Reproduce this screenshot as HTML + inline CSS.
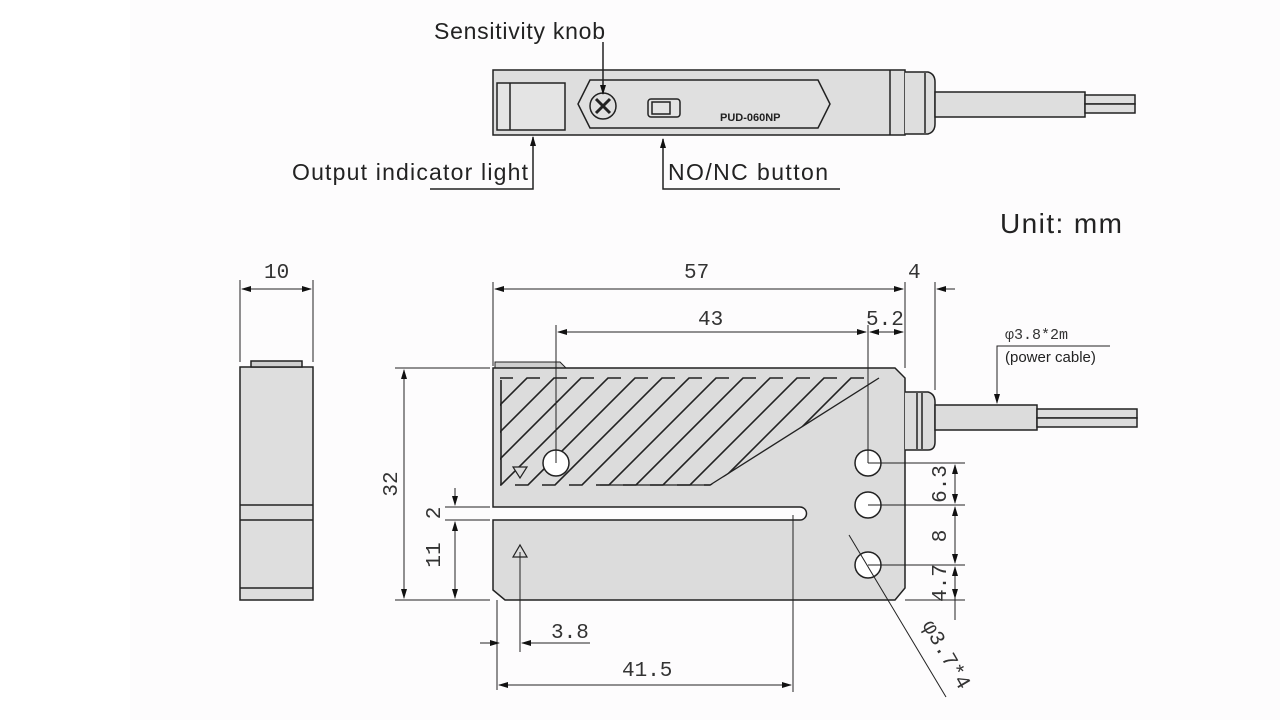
<!DOCTYPE html>
<html><head><meta charset="utf-8"><style>
html,body{margin:0;padding:0;background:#fff;}
svg{display:block;}
.s{font-family:"Liberation Sans","DejaVu Sans",sans-serif;fill:#222;}
.m{font-family:"Liberation Mono","DejaVu Sans Mono",monospace;fill:#333;}
</style></head><body>
<svg width="1280" height="720" viewBox="0 0 1280 720" xmlns="http://www.w3.org/2000/svg">
<defs>
<marker id="a" markerWidth="10" markerHeight="6" refX="9" refY="3" orient="auto" markerUnits="userSpaceOnUse"><path d="M0,0 L10,3 L0,6z" fill="#111"/></marker>
<marker id="b" markerWidth="10" markerHeight="6" refX="1" refY="3" orient="auto" markerUnits="userSpaceOnUse"><path d="M10,0 L0,3 L10,6z" fill="#111"/></marker>
<clipPath id="hc"><polygon points="500,377 879,377 710,486 500,486"/></clipPath>
</defs>
<rect x="130" y="0" width="1150" height="720" fill="#fdfcfd"/>
<g stroke="#222" stroke-width="1.5" fill="none">
<!-- TOP VIEW -->
<rect x="493" y="70" width="412" height="65" fill="#dedede"/>
<line x1="890" y1="70" x2="890" y2="135"/>
<path d="M905,72 L928,72 Q935,74 935,82 L935,124 Q935,132 928,134 L905,134" fill="#dedede"/>
<line x1="925" y1="73" x2="925" y2="133"/>
<rect x="935" y="92" width="150" height="25" fill="#dedede"/>
<rect x="1085" y="95" width="50" height="9" fill="#dedede"/>
<rect x="1085" y="104" width="50" height="9" fill="#dedede"/>
<rect x="497" y="83" width="68" height="47" fill="#e4e4e4"/>
<line x1="510" y1="83" x2="510" y2="130"/>
<polygon points="590,80 818,80 830,104 818,128 590,128 578,104" fill="#e0e0e0"/>
<circle cx="603" cy="106" r="13"/>
<path d="M596,99 L610,113 M610,99 L596,113" stroke-width="3"/>
<rect x="648" y="99" width="32" height="18" rx="3" fill="#e4e4e4"/>
<rect x="652" y="102" width="18" height="12"/>
<line x1="603" y1="42" x2="603" y2="94" marker-end="url(#a)"/>
<polyline points="430,189 533,189 533,137" marker-end="url(#a)"/>
<polyline points="840,189 663,189 663,139" marker-end="url(#a)"/>
<!-- SIDE VIEW -->
<rect x="240" y="367" width="73" height="233" fill="#dedede"/>
<rect x="251" y="361" width="51" height="6" fill="#cfcfcf"/>
<line x1="240" y1="505" x2="313" y2="505"/><line x1="240" y1="520" x2="313" y2="520"/><line x1="240" y1="588" x2="313" y2="588"/>
<line x1="240" y1="280" x2="240" y2="362" stroke-width="1"/><line x1="313" y1="280" x2="313" y2="362" stroke-width="1"/>
<line x1="242" y1="289" x2="311" y2="289" stroke-width="1" marker-start="url(#b)" marker-end="url(#a)"/>
<!-- FRONT VIEW -->
<path d="M495,362 L560,362 L566,368 L495,368z" fill="#cfcfcf" stroke-width="1"/>
<path d="M493,368 L895,368 L905,378 L905,588 L895,600 L505,600 L493,590 L493,520 L800,520 A6.5,6.5 0 0 0 800,507 L493,507 Z" fill="#dcdcdc"/>
<path d="M905,392 L928,392 Q935,394 935,402 L935,442 Q935,450 928,450 L905,450" fill="#dcdcdc"/>
<line x1="917" y1="393" x2="917" y2="449"/><line x1="922" y1="393" x2="922" y2="449"/>
<rect x="935" y="405" width="102" height="25" fill="#dcdcdc"/>
<rect x="1037" y="409" width="100" height="9" fill="#dcdcdc"/>
<rect x="1037" y="418" width="100" height="9" fill="#dcdcdc"/>
<g clip-path="url(#hc)" stroke-width="1.6">
<path d="M380,485 l13,0 l107,-107 l13,0 M407,485 l13,0 l107,-107 l13,0 M434,485 l13,0 l107,-107 l13,0 M461,485 l13,0 l107,-107 l13,0 M488,485 l13,0 l107,-107 l13,0 M515,485 l13,0 l107,-107 l13,0 M542,485 l13,0 l107,-107 l13,0 M569,485 l13,0 l107,-107 l13,0 M596,485 l13,0 l107,-107 l13,0 M623,485 l13,0 l107,-107 l13,0 M650,485 l13,0 l107,-107 l13,0 M677,485 l13,0 l107,-107 l13,0 M704,485 l13,0 l107,-107 l13,0 M731,485 l13,0 l107,-107 l13,0"/>
<line x1="501" y1="380" x2="501" y2="485"/>
</g>
<polyline points="879,378 710,485 600,485" stroke-width="1.3"/>
<circle cx="556" cy="463" r="13" fill="#fff"/>
<circle cx="868" cy="463" r="13" fill="#fff"/>
<circle cx="868" cy="505" r="13" fill="#fff"/>
<circle cx="868" cy="565" r="13" fill="#fff"/>
<polygon points="513,467 527,467 520,478" stroke-width="1.2" fill="#dcdcdc"/>
<polygon points="513,557 527,557 520,545" stroke-width="1.2"/>
<g stroke-width="1">
<line x1="493" y1="282" x2="493" y2="366"/>
<line x1="905" y1="282" x2="905" y2="368"/>
<line x1="935" y1="282" x2="935" y2="390"/>
<line x1="495" y1="289" x2="903" y2="289" marker-start="url(#b)" marker-end="url(#a)"/>
<line x1="955" y1="289" x2="937" y2="289" marker-end="url(#a)"/>
<line x1="556" y1="325" x2="556" y2="463"/>
<line x1="868" y1="325" x2="868" y2="463"/>
<line x1="558" y1="332" x2="866" y2="332" marker-start="url(#b)" marker-end="url(#a)"/>
<line x1="870" y1="332" x2="903" y2="332" marker-start="url(#b)" marker-end="url(#a)"/>
<polyline points="1110,346 997,346 997,403" marker-end="url(#a)"/>
<line x1="395" y1="368" x2="490" y2="368"/><line x1="395" y1="600" x2="490" y2="600"/>
<line x1="404" y1="370" x2="404" y2="598" marker-start="url(#b)" marker-end="url(#a)"/>
<line x1="445" y1="507" x2="490" y2="507"/><line x1="445" y1="520" x2="490" y2="520"/>
<line x1="455" y1="488" x2="455" y2="505" marker-end="url(#a)"/>
<line x1="455" y1="522" x2="455" y2="598" marker-start="url(#b)" marker-end="url(#a)"/>
<line x1="868" y1="463" x2="965" y2="463"/><line x1="868" y1="505" x2="965" y2="505"/><line x1="868" y1="565" x2="965" y2="565"/><line x1="905" y1="600" x2="965" y2="600"/>
<line x1="955" y1="465" x2="955" y2="503" marker-start="url(#b)" marker-end="url(#a)"/>
<line x1="955" y1="507" x2="955" y2="563" marker-start="url(#b)" marker-end="url(#a)"/>
<line x1="955" y1="567" x2="955" y2="598" marker-start="url(#b)" marker-end="url(#a)"/>
<line x1="955" y1="598" x2="955" y2="620"/>
<line x1="497" y1="600" x2="497" y2="690"/>
<line x1="520" y1="552" x2="520" y2="652"/>
<line x1="793" y1="515" x2="793" y2="692"/>
<line x1="590" y1="643" x2="522" y2="643" marker-end="url(#a)"/>
<line x1="499" y1="643" x2="480" y2="643" marker-start="url(#b)"/>
<line x1="499" y1="685" x2="791" y2="685" marker-start="url(#b)" marker-end="url(#a)"/>
<line x1="849" y1="535" x2="946" y2="697"/>
</g>
</g>
<text class="s" x="434" y="39" font-size="23" textLength="171">Sensitivity knob</text>
<text class="s" x="292" y="180" font-size="23" textLength="236">Output indicator light</text>
<text class="s" x="668" y="180" font-size="23" textLength="160">NO/NC button</text>
<text class="s" x="1000" y="233" font-size="28" textLength="122">Unit: mm</text>
<text class="s" x="720" y="121" font-size="11" font-weight="bold">PUD-060NP</text>
<text class="s" x="1005" y="362" font-size="15">(power cable)</text>
<text class="m" x="1005" y="339" font-size="15">φ3.8*2m</text>
<g class="m" font-size="21">
<text x="264" y="278">10</text>
<text x="684" y="278">57</text>
<text x="908" y="278">4</text>
<text x="698" y="325">43</text>
<text x="866" y="325">5.2</text>
<text x="551" y="638">3.8</text>
<text x="622" y="676">41.5</text>
<text transform="translate(397,484) rotate(-90)" text-anchor="middle">32</text>
<text transform="translate(440,513) rotate(-90)" text-anchor="middle">2</text>
<text transform="translate(440,555) rotate(-90)" text-anchor="middle">11</text>
<text transform="translate(946,484) rotate(-90)" text-anchor="middle">6.3</text>
<text transform="translate(946,536) rotate(-90)" text-anchor="middle">8</text>
<text transform="translate(946,583) rotate(-90)" text-anchor="middle">4.7</text>
<text transform="translate(922,625) rotate(60)">φ3.7*4</text>
</g>
</svg>
</body></html>
